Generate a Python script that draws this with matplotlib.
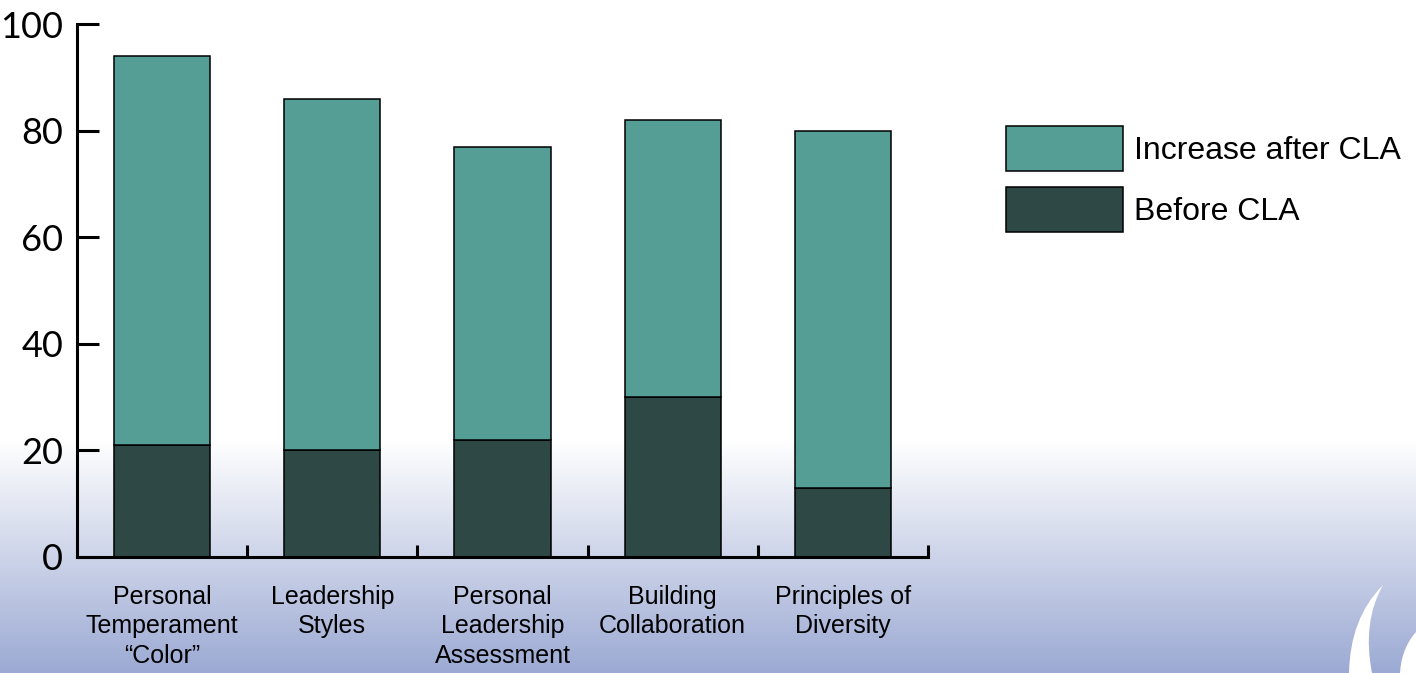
import numpy as np
import matplotlib
matplotlib.use("Agg")
import matplotlib.pyplot as plt
from matplotlib.path import Path
from matplotlib.patches import PathPatch, Ellipse

# survey results, percent
categories = ["Personal\nTemperament\n\u201cColor\u201d", "Leadership\nStyles",
              "Personal\nLeadership\nAssessment", "Building\nCollaboration",
              "Principles of\nDiversity"]
before = [21, 20, 22, 30, 13]
increase = [73, 66, 55, 52, 67]
yticks = [0, 20, 40, 60, 80, 100]

teal = "#559E96"
dark = "#2E4845"

W, H = 1416, 673
fig = plt.figure(figsize=(W / 100, H / 100), dpi=100)

# background gradient: white on top, lavender blue at the bottom
bg = fig.add_axes([0, 0, 1, 1], zorder=0)
rows = np.arange(H)
t = np.clip((rows - 440) / (H - 440), 0, 1)
top = np.array([1.0, 1.0, 1.0])
bot = np.array([155, 169, 211]) / 255
grad = top[None, :] * (1 - t[:, None]) + bot[None, :] * t[:, None]
img = np.repeat(grad[:, None, :], 4, axis=1)
bg.imshow(img, aspect="auto", extent=[0, W, H, 0])
bg.set_xlim(0, W)
bg.set_ylim(H, 0)
bg.axis("off")

# white decorative shapes, bottom right
verts = [(1383, 585), (1350, 618), (1349, 673), (1372, 673),
         (1362, 622), (1383, 585)]
codes = [Path.MOVETO, Path.CURVE3, Path.CURVE3, Path.LINETO,
         Path.CURVE3, Path.CURVE3]
bg.add_patch(PathPatch(Path(verts, codes), facecolor="white", edgecolor="none"))
bg.add_patch(Ellipse((1450, 676), 100, 120, facecolor="white", edgecolor="none"))

ax = fig.add_axes([77 / W, (H - 557) / H, (928 - 77) / W, (557 - 24) / H], zorder=1)
ax.patch.set_alpha(0)

x = np.arange(len(categories))
bw = 0.565
b1 = ax.bar(x, before, bw, color=dark, edgecolor="black", linewidth=1.1, label="Before CLA")
b2 = ax.bar(x, increase, bw, bottom=before, color=teal, edgecolor="black", linewidth=1.1,
            label="Increase after CLA")

ax.set_xlim(-0.5, len(categories) - 0.5)
ax.set_ylim(0, 100)
for s in ["top", "right"]:
    ax.spines[s].set_visible(False)
for s in ["left", "bottom"]:
    ax.spines[s].set_linewidth(2.2)

ax.set_yticks(yticks)
ax.set_yticklabels([str(v) for v in yticks], fontsize=26, family="Lato")
ax.tick_params(axis="y", direction="in", length=16, width=2.2, pad=10)

ax.set_xticks(list(x[:-1] + 0.5) + [len(categories) - 0.5])
ax.set_xticklabels([])
ax.tick_params(axis="x", which="major", direction="in", length=9, width=2.2)
ax.set_xticks(x, minor=True)
ax.set_xticklabels(categories, minor=True, fontsize=18, family="Liberation Sans",
                   linespacing=1.3)
ax.tick_params(axis="x", which="minor", length=0, pad=20)

fig.legend([b2, b1], ["Increase after CLA", "Before CLA"],
           loc="upper left", bbox_to_anchor=(1006 / W, 1 - 126 / H),
           frameon=False, prop={"family": "Liberation Sans", "size": 23},
           handlelength=3.65, handleheight=1.8, labelspacing=0.5, handletextpad=0.35,
           borderpad=0, borderaxespad=0)

fig.savefig("out.png", dpi=100)
